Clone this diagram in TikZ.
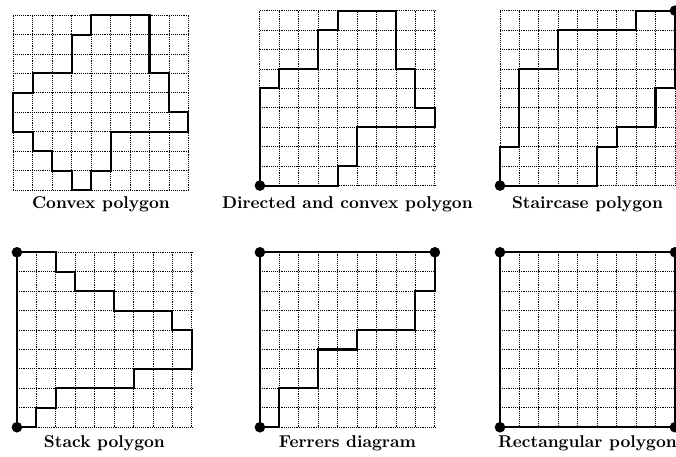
\documentclass[tikz,border=0pt]{standalone}
\begin{document}
\begin{tikzpicture}[
  x=0.4cm,y=0.4cm,font=\bfseries,line width=0.5pt,
  grid line/.style={dash pattern=on 0.5pt off 0.6pt,step=1},
  poly/.style={line width=1.2pt,line join=miter},
  corner dot/.style={fill=black},
  panel label/.style={anchor=base}
]
  \useasboundingbox (0,0) rectangle (34.774,23.508);

  % Top row: convex, directed and convex, staircase.
  \begin{scope}[shift={(0.69,13.73)}]
    \draw[grid line] (0,0) grid (9,9);
    \draw[poly] (4,9) -- (7,9) -- (7,6) -- (8,6) -- (8,4) -- (9,4)
      -- (9,3) -- (5,3) -- (5,1) -- (4,1) -- (4,0) -- (3,0) -- (3,1)
      -- (2,1) -- (2,2) -- (1,2) -- (1,3) -- (0,3) -- (0,5) -- (1,5)
      -- (1,6) -- (3,6) -- (3,8) -- (4,8) -- cycle;
  \end{scope}

  \begin{scope}[shift={(13.37,13.96)}]
    \draw[grid line] (0,0) grid (9,9);
    \draw[poly] (0,0) -- (4,0) -- (4,1) -- (5,1) -- (5,3) -- (9,3)
      -- (9,4) -- (8,4) -- (8,6) -- (7,6) -- (7,9) -- (4,9) -- (4,8)
      -- (3,8) -- (3,6) -- (1,6) -- (1,5) -- (0,5) -- cycle;
    \fill[corner dot] (0,0) circle (3.1pt);
  \end{scope}

  \begin{scope}[shift={(25.72,13.96)}]
    \draw[grid line] (0,0) grid (9,9);
    \draw[poly] (0,0) -- (5,0) -- (5,2) -- (6,2) -- (6,3) -- (8,3)
      -- (8,5) -- (9,5) -- (9,9) -- (7,9) -- (7,8) -- (3,8) -- (3,6)
      -- (1,6) -- (1,2) -- (0,2) -- cycle;
    \fill[corner dot] (0,0) circle (3.1pt) (9,9) circle (3.1pt);
  \end{scope}

  % Bottom row: stack, Ferrers, rectangle.
  \begin{scope}[shift={(0.87,1.53)}]
    \draw[grid line] (0,0) grid (9,9);
    \draw[poly] (0,9) -- (2,9) -- (2,8) -- (3,8) -- (3,7) -- (5,7)
      -- (5,6) -- (8,6) -- (8,5) -- (9,5) -- (9,3) -- (6,3) -- (6,2)
      -- (2,2) -- (2,1) -- (1,1) -- (1,0) -- (0,0) -- cycle;
    \fill[corner dot] (0,0) circle (3.1pt) (0,9) circle (3.1pt);
  \end{scope}

  \begin{scope}[shift={(13.37,1.53)}]
    \draw[grid line] (0,0) grid (9,9);
    \draw[poly] (0,9) -- (9,9) -- (9,7) -- (8,7) -- (8,5) -- (5,5)
      -- (5,4) -- (3,4) -- (3,2) -- (1,2) -- (1,0) -- (0,0) -- cycle;
    \fill[corner dot] (0,0) circle (3.1pt) (0,9) circle (3.1pt)
      (9,9) circle (3.1pt);
  \end{scope}

  \begin{scope}[shift={(25.72,1.53)}]
    \draw[grid line] (0,0) grid (9,9);
    \draw[poly] (0,0) rectangle (9,9);
    \fill[corner dot] (0,0) circle (3.1pt) (0,9) circle (3.1pt)
      (9,9) circle (3.1pt) (9,0) circle (3.1pt);
  \end{scope}

  \node[panel label] (convex) at (5.19,12.79) {Convex polygon};
  \node[panel label] (directed) at (17.87,12.79) {Directed and convex polygon};
  \node[panel label] (staircase) at (30.22,12.79) {Staircase polygon};
  \node[panel label] (stack) at (5.37,0.5) {Stack polygon};
  \node[panel label] (ferrers) at (17.87,0.5) {Ferrers diagram};
  \node[panel label] (rect) at (30.22,0.5) {Rectangular polygon};
\end{tikzpicture}
\end{document}
